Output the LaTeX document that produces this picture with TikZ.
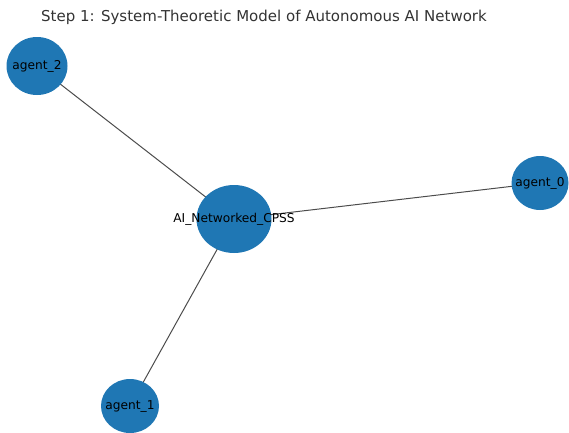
\documentclass[tikz,border=0pt]{standalone}
\usepackage{fontspec}
\setmainfont{DejaVu Sans}
\usetikzlibrary{shapes.geometric}
\definecolor{nodeblue}{HTML}{1F77B4}
\begin{document}
\begin{tikzpicture}[x=1pt,y=-1pt,
  disc/.style={ellipse, fill=nodeblue, inner sep=0pt},
  nodetext/.style={inner sep=0pt, font=\fontsize{12.2}{13}\selectfont, text=black},
  link/.style={draw=black!70, line width=1pt}]
\useasboundingbox (0,0) rectangle (569,432);
\node[font=\fontsize{15}{17}\selectfont, text=black!80] (title) at (264,17) {Step 1: System-Theoretic Model of Autonomous AI Network};
% node positions
\coordinate (phub) at (234,219);
\coordinate (p0) at (540,183);
\coordinate (p1) at (130,406);
\coordinate (p2) at (37,66);
% edges first, discs drawn over them
\draw[link] (phub) -- (p0);
\draw[link] (phub) -- (p1);
\draw[link] (phub) -- (p2);
\node[disc, minimum width=75, minimum height=68] (hub) at (phub) {};
\node[disc, minimum width=57, minimum height=54] (a0) at (p0) {};
\node[disc, minimum width=58, minimum height=54] (a1) at (p1) {};
\node[disc, minimum width=61, minimum height=58] (a2) at (p2) {};
% labels on top of the discs
\node[nodetext] (thub) at (hub.center) {AI\_Networked\_CPSS};
\node[nodetext] (t0) at (a0.center) {agent\_0};
\node[nodetext] (t1) at (a1.center) {agent\_1};
\node[nodetext] (t2) at (a2.center) {agent\_2};
\end{tikzpicture}
\end{document}
